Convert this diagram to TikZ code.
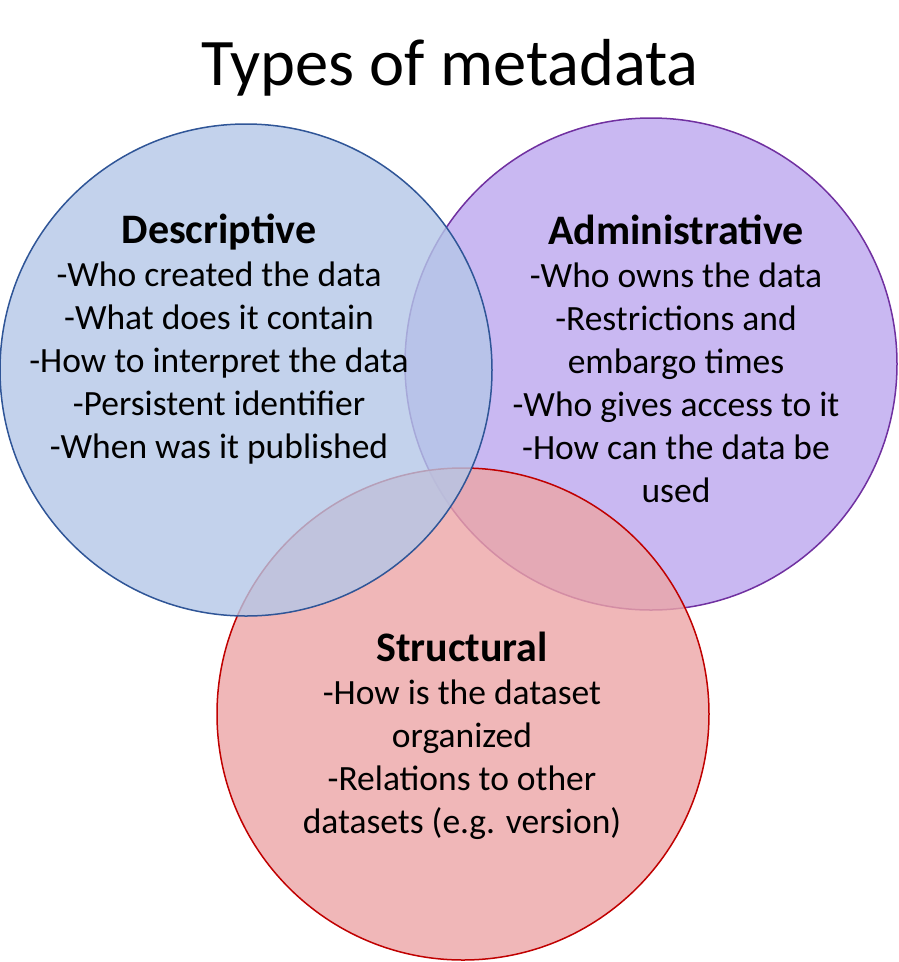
\documentclass[tikz,border=0pt]{standalone}
\usepackage{fontspec}
\setmainfont{Carlito}

\definecolor{descfill}{HTML}{B4C7E7}
\definecolor{descline}{HTML}{2F5597}
\definecolor{admfill}{HTML}{BBA6EF}
\definecolor{admline}{HTML}{7030A0}
\definecolor{strucfill}{HTML}{ECA5A6}
\definecolor{strucline}{HTML}{C00000}

\begin{document}
\begin{tikzpicture}[
    x=1pt,
    y=-1pt,
    font=\fontsize{35.5}{43}\selectfont,
    venn/.style={
        circle,
        line width=1.5pt,
        fill opacity=0.8,
        minimum size=492pt,
        inner sep=0pt
    },
    itemlist/.style={
        align=center,
        anchor=base,
        inner sep=0pt
    }
]

\useasboundingbox (0,0) rectangle (898,962);

% --------------------------------------------------
% Title
% --------------------------------------------------

\node[anchor=base, inner sep=0pt, font=\fontsize{66.5}{80}\selectfont] (title) at (450,85)
    {Types of metadata};

% --------------------------------------------------
% Circles
% --------------------------------------------------

\node[venn, draw=admline, fill=admfill] (admin) at (651,364) {};

\node[venn, draw=strucline, fill=strucfill] (struc) at (463,714) {};

\node[venn, draw=descline, fill=descfill] (desc) at (246,370) {};

% --------------------------------------------------
% Texts (base = last line)
% --------------------------------------------------

\node[itemlist] (desctext) at (219,458)
    {{\bfseries\fontsize{42}{43}\selectfont Descriptive}\\
     -Who created the data\\
     -What does it contain\\
     -How to interpret the data\\
     -Persistent identifier\\
     -When was it published};

\node[itemlist] (admtext) at (676,502)
    {{\bfseries\fontsize{42}{43}\selectfont Administrative}\\
     -Who owns the data\\
     -Restrictions and\\
     embargo times\\
     -Who gives access to it\\
     -How can the data be\\
     used};

\node[itemlist] (structext) at (462,833)
    {{\bfseries\fontsize{42}{43}\selectfont Structural}\\
     -How is the dataset\\
     organized\\
     -Relations to other\\
     datasets (e.g. version)};

\end{tikzpicture}
\end{document}
